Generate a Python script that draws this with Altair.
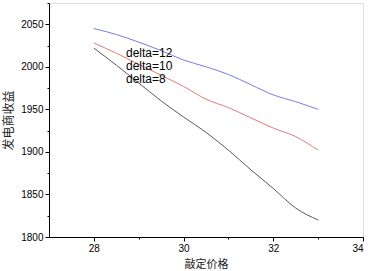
import altair as alt
import pandas as pd

price = [28, 28.5, 29, 29.5, 30, 30.5, 31, 31.5, 32, 32.5, 33]
delta12 = [2045, 2038, 2029, 2019, 2008, 2000, 1991, 1979, 1967, 1959, 1950]
delta10 = [2028, 2016, 2003, 1990, 1977, 1962, 1952, 1940, 1928, 1918, 1902]
delta8 = [2022, 2002, 1981, 1960, 1941, 1923, 1902, 1879, 1857, 1834, 1820]

series_names = ["delta=12", "delta=10", "delta=8"]
series_colors = ["#7a7ae8", "#e27a7a", "#5a5a5a"]

rows = []
for name, vals in zip(series_names, [delta12, delta10, delta8]):
    for p, v in zip(price, vals):
        rows.append({"price": p, "value": v, "series": name})
df = pd.DataFrame(rows)

font = "Liberation Sans"

chart = alt.Chart(df).mark_line(interpolate="monotone", strokeWidth=1).encode(
    x=alt.X("price:Q", scale=alt.Scale(domain=[27, 34], nice=False, zero=False),
            axis=alt.Axis(title="敲定价格", values=[28, 29, 30, 31, 32, 33, 34],
                          labelExpr="datum.value % 2 === 0 ? datum.label : ''",
                          tickSize={"condition": {"test": "datum.value % 2 !== 0", "value": 2}, "value": 4},
                          grid=False, domainColor="#000", tickColor="#000",
                          labelFont=font, labelFontSize=10, labelColor="#000",
                          titleFont="Noto Sans CJK SC", titleFontSize=11, titleFontWeight="normal",
                          titleColor="#222", titlePadding=5, labelPadding=2)),
    y=alt.Y("value:Q", scale=alt.Scale(domain=[1800, 2075], nice=False, zero=False),
            axis=alt.Axis(title="发电商收益", values=list(range(1800, 2076, 25)),
                          labelExpr="datum.value % 50 === 0 ? datum.label : ''",
                          tickSize={"condition": {"test": "datum.value % 50 !== 0", "value": 2}, "value": 4},
                          grid=False, domainColor="#000", tickColor="#000",
                          labelFont=font, labelFontSize=10, labelColor="#000", format="d",
                          titleFont="Noto Sans CJK SC", titleFontSize=12, titleFontWeight="normal",
                          titleColor="#222", titlePadding=5, labelPadding=2)),
    color=alt.Color("series:N",
                    scale=alt.Scale(domain=series_names, range=series_colors),
                    legend=alt.Legend(title=None, orient="none", legendX=65, legendY=44,
                                      symbolSize=0, symbolStrokeWidth=0, symbolOpacity=0,
                                      labelFont=font, labelFontSize=12, labelColor="#000",
                                      labelOffset=0, rowPadding=1)),
).properties(
    width=314, height=234,
    autosize=alt.AutoSizeParams(type="none"),
    padding={"left": 49, "top": 3, "right": 7, "bottom": 34},
).configure_view(stroke=None).configure(background="white")

chart.save("out.html", embed_options={"renderer": "svg", "actions": False})
